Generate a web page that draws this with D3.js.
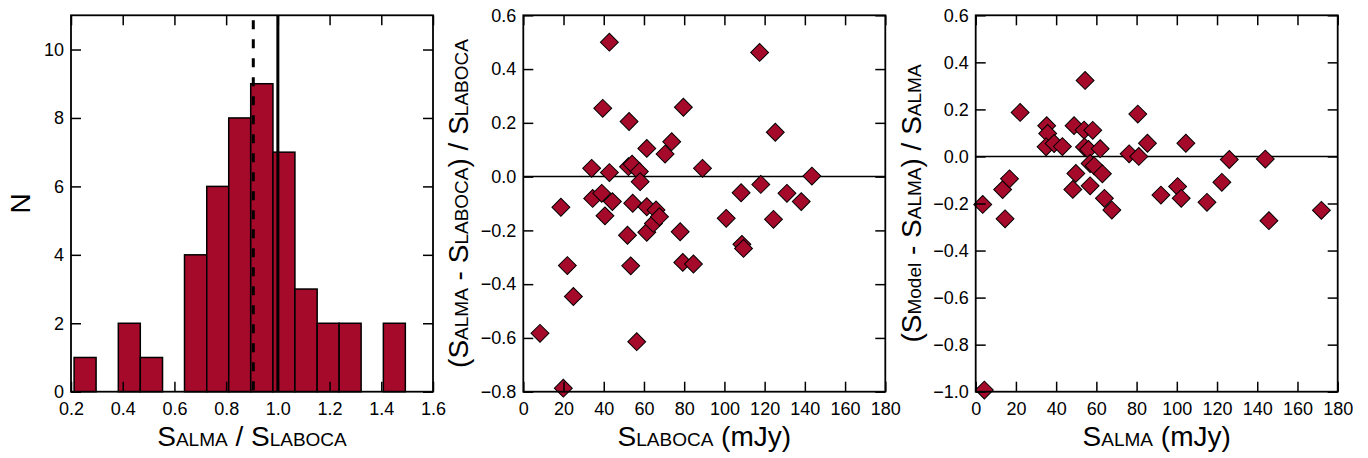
<!DOCTYPE html>
<html>
<head>
<meta charset="utf-8">
<script src="https://cdn.jsdelivr.net/npm/d3@7"></script>
<style>
  body { margin: 0; background: #fff; }
  text { font-family: "Liberation Sans", Arial, Helvetica, sans-serif; fill: #000; }
</style>
</head>
<body>
<svg id="chart" width="1368" height="458"></svg>
<script>
// histogram of S_ALMA / S_LABOCA
var binEdges = [0.212, 0.297, 0.383, 0.468, 0.554, 0.639, 0.725, 0.810, 0.895, 0.981, 1.066, 1.152, 1.237, 1.322, 1.408, 1.493];
var binCounts = [1, 0, 2, 1, 0, 4, 6, 8, 9, 7, 3, 2, 2, 0, 2];
var medianRatio = 0.905;
var unityRatio = 1.0;

// panel 2: S_LABOCA vs (S_ALMA - S_LABOCA)/S_LABOCA
var laboca = [8.3, 19.9, 18.7, 21.9, 24.9, 34.0, 34.5, 39.0, 39.5, 40.6, 42.8, 42.8, 44.3, 52.6, 51.8, 53.4,
              52.3, 54.1, 54.4, 57.7, 58.1, 56.4, 61.4, 61.4, 61.4, 66.0, 64.7, 67.7, 70.5, 73.8, 78.0, 79.6,
              79.3, 84.6, 89.1, 100.9, 108.3, 108.7, 109.5, 117.5, 118.1, 124.4, 125.3, 131.1, 138.2, 143.5];
var dLaboca = [-0.583, -0.787, -0.114, -0.331, -0.446, 0.031, -0.081, -0.062, 0.254, -0.146, 0.500, 0.015, -0.093, 0.205, -0.218, -0.332,
               0.037, 0.046, -0.099, 0.019, -0.019, -0.614, 0.105, -0.112, -0.207, -0.124, -0.174, -0.149, 0.084, 0.130, -0.205, 0.258,
               -0.319, -0.325, 0.031, -0.155, -0.060, -0.252, -0.267, 0.462, -0.029, -0.159, 0.165, -0.062, -0.093, 0.002];

// panel 3: S_ALMA vs (S_Model - S_ALMA)/S_ALMA
var alma = [3.5, 4.3, 13.4, 14.6, 16.8, 22.1, 35.3, 35.8, 35.0, 39.0, 43.1, 48.3, 48.9, 49.8, 53.9, 54.4,
            54.1, 56.1, 58.2, 56.9, 58.9, 56.9, 61.9, 63.0, 64.0, 67.7, 76.3, 80.6, 81.1, 85.4, 92.1, 100.4,
            102.2, 104.5, 115.0, 122.4, 126.1, 144.0, 145.8, 171.9];
var dAlma = [-0.204, -0.993, -0.141, -0.265, -0.095, 0.187, 0.131, 0.098, 0.041, 0.055, 0.042, -0.140, 0.131, -0.072, 0.112, 0.323,
             0.040, 0.030, 0.111, -0.030, -0.040, -0.125, 0.033, -0.074, -0.178, -0.228, 0.011, 0.180, 0.000, 0.056, -0.164, -0.128,
             -0.178, 0.056, -0.195, -0.110, -0.013, -0.011, -0.273, -0.229];

var histTicksX = [0.2, 0.4, 0.6, 0.8, 1.0, 1.2, 1.4, 1.6];
var histTicksY = [0, 2, 4, 6, 8, 10];
var fluxTicks = [0, 20, 40, 60, 80, 100, 120, 140, 160, 180];
var resTicks2 = [-0.8, -0.6, -0.4, -0.2, 0.0, 0.2, 0.4, 0.6];
var resTicks3 = [-1.0, -0.8, -0.6, -0.4, -0.2, 0.0, 0.2, 0.4, 0.6];

var red = "#a50a2a";
var svg = d3.select("#chart");
var top_ = 15.3, bottom = 391.7, pw = 362;
var minus = function(f) { return function(d) { return d3.format(f)(d).replace("-", "\u2212"); }; };

function panel(left, xdom, ydom, xticks, yticks, xfmt, yfmt) {
    var x = d3.scaleLinear().domain(xdom).range([left, left + pw]);
    var y = d3.scaleLinear().domain(ydom).range([bottom, top_]);
    var g = svg.append("g");
    var ax = [
        [d3.axisBottom(x).tickValues(xticks).tickFormat(xfmt).tickSize(-10).tickPadding(11), "translate(0," + bottom + ")"],
        [d3.axisTop(x).tickValues(xticks).tickFormat("").tickSize(-10), "translate(0," + top_ + ")"],
        [d3.axisLeft(y).tickValues(yticks).tickFormat(yfmt).tickSize(-10).tickPadding(7), "translate(" + left + ",0)"],
        [d3.axisRight(y).tickValues(yticks).tickFormat("").tickSize(-10), "translate(" + (left + pw) + ",0)"]
    ];
    var marks = g.append("g");
    ax.forEach(function(a) {
        var s = g.append("g").attr("transform", a[1]).call(a[0].tickSizeOuter(0));
        s.select(".domain").remove();
        s.selectAll("line").attr("stroke", "#000").attr("stroke-width", 1.5);
        s.selectAll("text").style("font-size", "18px").attr("fill", "#000");
    });
    g.append("rect").attr("x", left).attr("y", top_).attr("width", pw).attr("height", bottom - top_)
        .attr("fill", "none").attr("stroke", "#000").attr("stroke-width", 1.8);
    return {x: x, y: y, g: marks, left: left};
}

function label(parts, x, y, rotate, size) {
    var t = svg.append("text").attr("text-anchor", "middle")
        .attr("transform", "translate(" + x + "," + y + ")" + (rotate ? " rotate(-90)" : ""))
        .style("font-size", (size || 28) + "px");
    parts.forEach(function(p) {
        t.append("tspan").text(p[0]).style("font-size", p[1] ? "19px" : null);
    });
}

// ---- panel 1
var p1 = panel(71, [0.2, 1.6], [0, 11], histTicksX, histTicksY, d3.format(".1f"), d3.format("d"));
var bins = binCounts.map(function(c, i) { return {n: c, x0: binEdges[i], x1: binEdges[i + 1]}; })
    .filter(function(b) { return b.n > 0; });
p1.g.selectAll("rect").data(bins).enter().append("rect")
    .attr("x", function(d) { return p1.x(d.x0); })
    .attr("y", function(d) { return p1.y(d.n); })
    .attr("width", function(d) { return p1.x(d.x1) - p1.x(d.x0); })
    .attr("height", function(d) { return p1.y(0) - p1.y(d.n); })
    .attr("fill", red).attr("stroke", "#000").attr("stroke-width", 1.5);
p1.g.append("line").attr("x1", p1.x(medianRatio)).attr("x2", p1.x(medianRatio))
    .attr("y1", top_).attr("y2", bottom).attr("stroke", "#000").attr("stroke-width", 3)
    .attr("stroke-dasharray", "9,10").attr("stroke-dashoffset", -5);
p1.g.append("line").attr("x1", p1.x(unityRatio)).attr("x2", p1.x(unityRatio))
    .attr("y1", top_).attr("y2", bottom).attr("stroke", "#000").attr("stroke-width", 3);
label([["S"], ["ALMA", 1], [" / S"], ["LABOCA", 1]], 71 + pw / 2, 446);
label([["N"]], 30, 203.5, true, 28);

// ---- scatter panels
function scatter(p, xs, ys) {
    p.g.append("line").attr("x1", p.x.range()[0]).attr("x2", p.x.range()[1])
        .attr("y1", p.y(0)).attr("y2", p.y(0)).attr("stroke", "#000").attr("stroke-width", 1.5);
    var sym = d3.symbol().type(d3.symbolSquare).size(160);
    p.g.selectAll("path.pt").data(xs).enter().append("path").attr("class", "pt")
        .attr("d", sym)
        .attr("transform", function(d, i) { return "translate(" + p.x(d) + "," + p.y(ys[i]) + ") rotate(45)"; })
        .attr("fill", red).attr("stroke", "#000").attr("stroke-width", 1);
}

var p2 = panel(523.3, [0, 180], [-0.8, 0.6], fluxTicks, resTicks2, d3.format("d"), minus(".1f"));
scatter(p2, laboca, dLaboca);
label([["S"], ["LABOCA", 1], [" (mJy)"]], 523.3 + pw / 2, 446);
label([["(S"], ["ALMA", 1], [" - S"], ["LABOCA", 1], [") / S"], ["LABOCA", 1]], 468, 203.5, true);

var p3 = panel(975.7, [0, 180], [-1.0, 0.6], fluxTicks, resTicks3, d3.format("d"), minus(".1f"));
scatter(p3, alma, dAlma);
label([["S"], ["ALMA", 1], [" (mJy)"]], 975.7 + pw / 2, 446);
label([["(S"], ["Model", 1], [" - S"], ["ALMA", 1], [") / S"], ["ALMA", 1]], 921, 203.5, true);
</script>
</body>
</html>
